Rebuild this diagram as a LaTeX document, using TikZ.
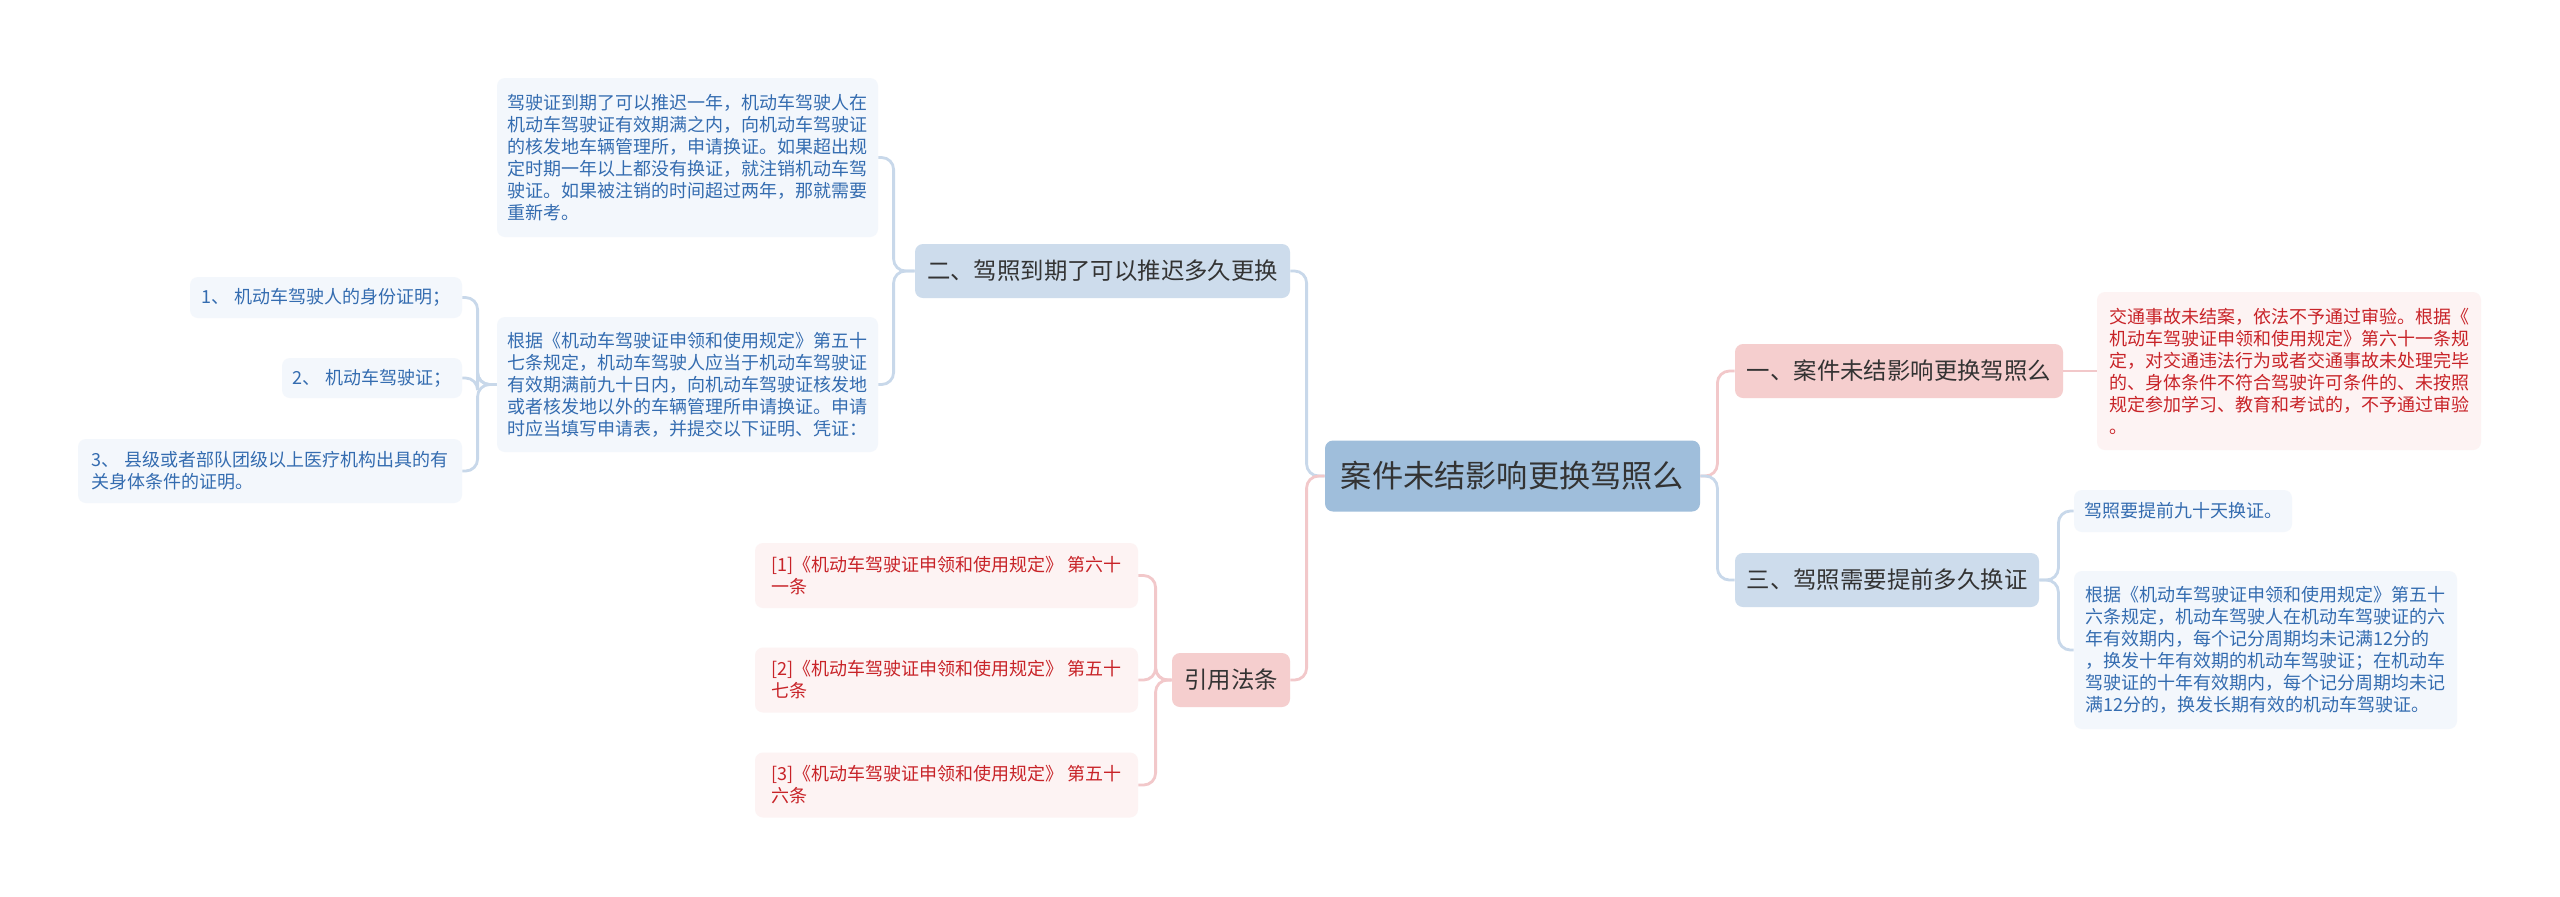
\documentclass[tikz,border=0pt]{standalone}
\usepackage{fontspec}
\setmainfont{Noto Sans CJK SC}
\usepackage{xcolor}
\usepackage{tikz}
\definecolor{ink}{RGB}{51,51,51}
\definecolor{topicfill}{RGB}{159,190,219}
\definecolor{bbrfill}{RGB}{205,220,236}
\definecolor{pbrfill}{RGB}{245,206,206}
\definecolor{bleaffill}{RGB}{243,247,252}
\definecolor{bleaftext}{RGB}{52,108,176}
\definecolor{rleaffill}{RGB}{253,243,243}
\definecolor{rleaftext}{RGB}{200,35,40}
\definecolor{bconcol}{RGB}{200,216,234}
\definecolor{pconcol}{RGB}{242,200,202}
\tikzset{
  topic/.style={fill=topicfill,text=ink,rounded corners=4pt,font=\fontsize{15.6}{18}\selectfont,minimum width=187.5pt,minimum height=35.5pt,inner sep=0pt},
  bbr/.style={fill=bbrfill,text=ink,rounded corners=4pt,font=\fontsize{11.7}{14}\selectfont,minimum height=27pt,inner sep=0pt},
  pbr/.style={bbr,fill=pbrfill},
  bleaf/.style={fill=bleaffill,text=bleaftext,rounded corners=4pt,font=\fontsize{9}{11}\selectfont,align=left,inner xsep=4pt,inner ysep=0pt},
  rleaf/.style={bleaf,fill=rleaffill,text=rleaftext},
  bcon/.style={draw=bconcol,line width=1.4pt,rounded corners=6pt},
  pcon/.style={bcon,draw=pconcol}
}
\newcommand{\gd}{《机动车驾驶证申领和使用规定》}

\begin{document}
\begin{tikzpicture}[x=0.5pt,y=-0.5pt]
\path[use as bounding box,fill=white] (0,0) rectangle (2560,896);
\node[topic] (topic) at (1512.5,476) {案件未结影响更换驾照么};
\node[pbr,minimum width=164pt] (b1) at (1899,371) {一、案件未结影响更换驾照么};
\node[bbr,minimum width=187.5pt] (b2) at (1102.5,271) {二、驾照到期了可以推迟多久更换};
\node[bbr,minimum width=152pt] (b3) at (1887,580) {三、驾照需要提前多久换证};
\node[pbr,minimum width=59pt] (cite) at (1231,680) {引用法条};

\node[rleaf,minimum width=192pt,minimum height=79pt] (r1) at (2289,371) {交通事故未结案，依法不予通过审验。根据《\\机动车驾驶证申领和使用规定》第六十一条规\\定，对交通违法行为或者交通事故未处理完毕\\的、身体条件不符合驾驶许可条件的、未按照\\规定参加学习、教育和考试的，不予通过审验\\。};

\node[bleaf,minimum width=190.5pt,minimum height=79.5pt] (l21) at (687.5,157.5) {驾驶证到期了可以推迟一年，机动车驾驶人在\\机动车驾驶证有效期满之内，向机动车驾驶证\\的核发地车辆管理所，申请换证。如果超出规\\定时期一年以上都没有换证，就注销机动车驾\\驶证。如果被注销的时间超过两年，那就需要\\重新考。};
\node[bleaf,minimum width=190.5pt,minimum height=67.5pt] (l22) at (687.5,384.5) {根据\gd 第五十\\七条规定，机动车驾驶人应当于机动车驾驶证\\有效期满前九十日内，向机动车驾驶证核发地\\或者核发地以外的车辆管理所申请换证。申请\\时应当填写申请表，并提交以下证明、凭证：};
\node[bleaf,minimum width=136pt,minimum height=20.5pt] (s1) at (326,297.5) {1、 机动车驾驶人的身份证明；};
\node[bleaf,minimum width=90pt,minimum height=20pt] (s2) at (372,378) {2、 机动车驾驶证；};
\node[bleaf,minimum width=192pt,minimum height=32pt] (s3) at (270,471) {3、 县级或者部队团级以上医疗机构出具的有\\关身体条件的证明。};

\node[bleaf,minimum width=109pt,minimum height=21pt] (l31) at (2183,511) {驾照要提前九十天换证。};
\node[bleaf,minimum width=191.5pt,minimum height=79pt] (l32) at (2265.5,650) {根据\gd 第五十\\六条规定，机动车驾驶人在机动车驾驶证的六\\年有效期内，每个记分周期均未记满12分的\\，换发十年有效期的机动车驾驶证；在机动车\\驾驶证的十年有效期内，每个记分周期均未记\\满12分的，换发长期有效的机动车驾驶证。};

\node[rleaf,minimum width=191.5pt,minimum height=32.5pt] (c1) at (946.5,575.5) {[1]\gd{} 第六十\\一条};
\node[rleaf,minimum width=191.5pt,minimum height=32.5pt] (c2) at (946.5,680) {[2]\gd{} 第五十\\七条};
\node[rleaf,minimum width=191.5pt,minimum height=32.5pt] (c3) at (946.5,785) {[3]\gd{} 第五十\\六条};

\draw[pcon] (topic.east) -- ++(17,0) |- (b1.west);
\draw[bcon] (topic.east) -- ++(17,0) |- (b3.west);
\draw[bcon] (topic.west) -- ++(-18,0) |- (b2.east);
\draw[pcon] (topic.west) -- ++(-18,0) |- (cite.east);
\draw[pcon] (b1.east) -- (r1.west);
\draw[bcon] (b2.west) -- ++(-21,0) |- (l21.east);
\draw[bcon] (b2.west) -- ++(-21,0) |- (l22.east);
\draw[bcon] (l22.west) -- ++(-19,0) |- (s1.east);
\draw[bcon] (l22.west) -- ++(-19,0) |- (s2.east);
\draw[bcon] (l22.west) -- ++(-19,0) |- (s3.east);
\draw[bcon] (b3.east) -- ++(19,0) |- (l31.west);
\draw[bcon] (b3.east) -- ++(19,0) |- (l32.west);
\draw[pcon] (cite.west) -- ++(-16,0) |- (c1.east);
\draw[pcon] (cite.west) -- ++(-16,0) |- (c2.east);
\draw[pcon] (cite.west) -- ++(-16,0) |- (c3.east);
\end{tikzpicture}
\end{document}
